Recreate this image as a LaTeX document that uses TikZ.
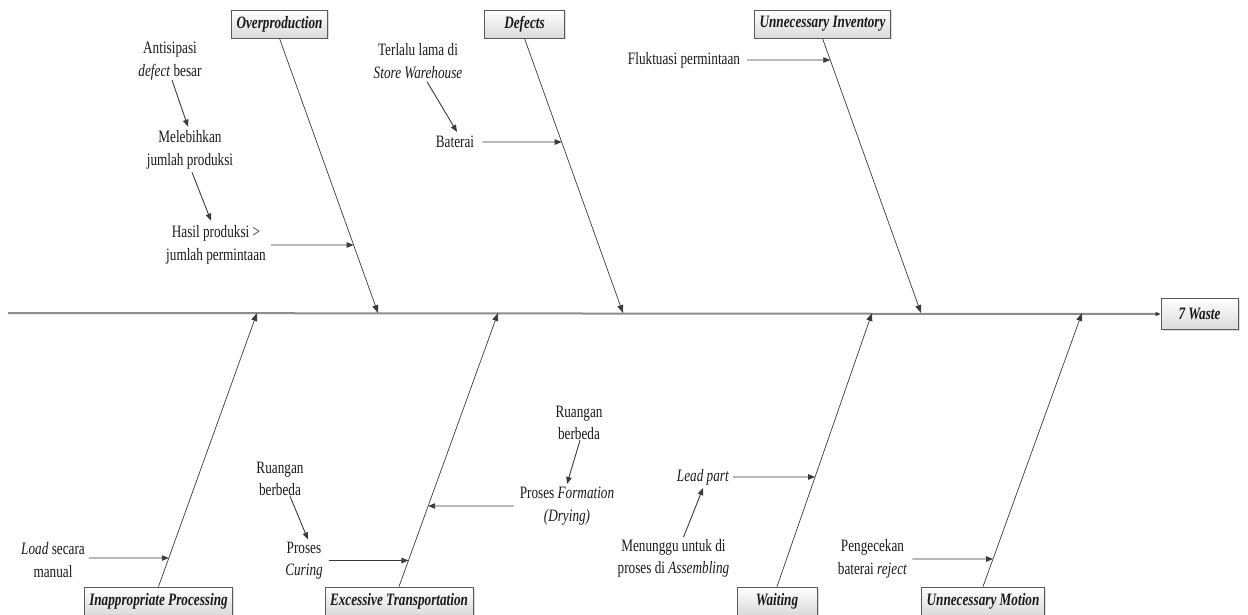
\documentclass[tikz,border=0pt]{standalone}
\usepackage{fontspec}
\setmainfont{Liberation Serif}[FakeStretch=0.76]
\usetikzlibrary{arrows.meta,shadows,calc}

\definecolor{bonecol}{HTML}{3A3A3A}
\definecolor{spinecol}{HTML}{8C8C8C}
\definecolor{boxline}{HTML}{5A5A5A}
\definecolor{boxbot}{HTML}{DADADA}
\definecolor{txtcol}{HTML}{1A1A1A}

\tikzset{
  cat/.style={draw=boxline, line width=0.8pt, top color=white, bottom color=boxbot,
    minimum height=28pt, minimum width=80pt, inner xsep=5pt, inner ysep=2pt,
    font=\fontsize{17.4pt}{22.5pt}\selectfont\bfseries\itshape, text=txtcol,
    drop shadow={shadow xshift=1.5pt, shadow yshift=-1.5pt, opacity=0.3, fill=gray}},
  cause/.style={align=center, inner sep=0pt, text=txtcol,
    font=\fontsize{17.4pt}{22.5pt}\selectfont},
  bone/.style={draw=bonecol, line width=0.7pt, -{Triangle[length=8pt,width=6pt]}},
  sub/.style={draw=bonecol, line width=0.9pt, -{Triangle[length=7pt,width=5.5pt]}},
  spine/.style={draw=spinecol, line width=2pt, -{Triangle[length=5pt,width=4pt,color=bonecol]}}
}

\begin{document}
\begin{tikzpicture}[x=1pt,y=1pt]
\useasboundingbox (0,0) rectangle (1248,-615);

% category boxes
\node[cat] (op) at (279.5,-24) {Overproduction};
\node[cat] (df) at (524.5,-24) {Defects};
\node[cat] (ui) at (822.5,-24) {Unnecessary Inventory};
\node[cat] (ip) at (158.5,-601) {Inappropriate Processing};
\node[cat] (et) at (399,-601) {Excessive Transportation};
\node[cat] (wt) at (777,-601) {Waiting};
\node[cat] (um) at (983,-601) {Unnecessary Motion};
\node[cat, minimum width=77pt, minimum height=31pt] (ws) at (1199.5,-314) {7 Waste};

% spine
\coordinate (s0) at (8,-313);
\draw[spine] (s0) -- (ws.west);

% points where the bones meet the spine
\coordinate (sop) at (378,-313);
\coordinate (sdf) at (623,-313);
\coordinate (sui) at (921,-313);
\coordinate (sip) at (257,-313);
\coordinate (set) at (498,-313);
\coordinate (swt) at (872,-313);
\coordinate (sum) at (1082,-313);

% bones
\draw[bone] (op.south) -- (sop);
\draw[bone] (df.south) -- (sdf);
\draw[bone] (ui.south) -- (sui);
\draw[bone] (ip.north) -- (sip);
\draw[bone] (et.north) -- (set);
\draw[bone] (wt.north) -- (swt);
\draw[bone] (um.north) -- (sum);

% Overproduction causes
\node[cause] (c1) at (170,-61) {Antisipasi\\\textit{defect} besar};
\node[cause] (c2) at (190,-150) {Melebihkan\\jumlah produksi};
\node[cause] (c3) at (216,-245) {Hasil produksi >\\jumlah permintaan};
\draw[sub] ([xshift=2pt]c1.south) -- ([xshift=-2pt,yshift=4pt]c2.north);
\draw[sub] ([xshift=2pt,yshift=-3pt]c2.south) -- ([xshift=-5pt,yshift=5pt]c3.north);
\draw[sub] ([xshift=5pt]c3.east) -- (intersection of op.south--sop and c3.west--c3.east);

% Defects causes
\node[cause] (d1) at (418,-61) {Terlalu lama di\\\textit{Store Warehouse}};
\node[cause] (d2) at (455,-142) {Baterai};
\draw[sub] ([xshift=9pt,yshift=-3pt]d1.south) -- ([xshift=2pt,yshift=4pt]d2.north);
\draw[sub] ([xshift=8pt]d2.east) -- (intersection of df.south--sdf and d2.west--d2.east);

% Unnecessary Inventory cause
\node[cause] (i1) at (684,-60) {Fluktuasi permintaan};
\draw[sub] ([xshift=7pt]i1.east) -- (intersection of ui.south--sui and i1.west--i1.east);

% Inappropriate Processing cause
\node[cause] (l1) at (53,-560) {\textit{Load} secara\\manual};
\draw[sub] ([xshift=4pt,yshift=2pt]l1.east) -- (intersection of ip.north--sip and {[yshift=2pt]l1.west}--{[yshift=2pt]l1.east});

% Excessive Transportation causes
\node[cause] (r1) at (280,-479) {Ruangan\\berbeda};
\node[cause] (p1) at (304,-560.5) {Proses\\\textit{Curing}};
\draw[sub] ([xshift=10pt]r1.south) -- ([xshift=4pt,yshift=2pt]p1.north);
\draw[sub] ([xshift=6pt]p1.east) -- (intersection of et.north--set and p1.west--p1.east);
\node[cause] (r2) at (579,-423) {Ruangan\\berbeda};
\node[cause] (f1) at (567,-506) {Proses \textit{Formation}\\\textit{(Drying)}};
\draw[sub] ([xshift=1pt]r2.south) -- ([yshift=3pt]f1.north);
\draw[sub] ([xshift=-6pt]f1.west) -- (intersection of et.north--set and f1.west--f1.east);

% Waiting causes
\node[cause] (lp) at (703,-477) {\textit{Lead part}};
\node[cause] (mn) at (673.5,-558.5) {Menunggu untuk di\\proses di \textit{Assembling}};
\draw[sub] ([xshift=10pt,yshift=2pt]mn.north) -- ([yshift=-3pt]lp.south);
\draw[sub] ([xshift=4pt]lp.east) -- (intersection of wt.north--swt and lp.west--lp.east);

% Unnecessary Motion cause
\node[cause] (pg) at (872.5,-559) {Pengecekan\\baterai \textit{reject}};
\draw[sub] ([xshift=5pt]pg.east) -- (intersection of um.north--sum and pg.west--pg.east);
\end{tikzpicture}
\end{document}
